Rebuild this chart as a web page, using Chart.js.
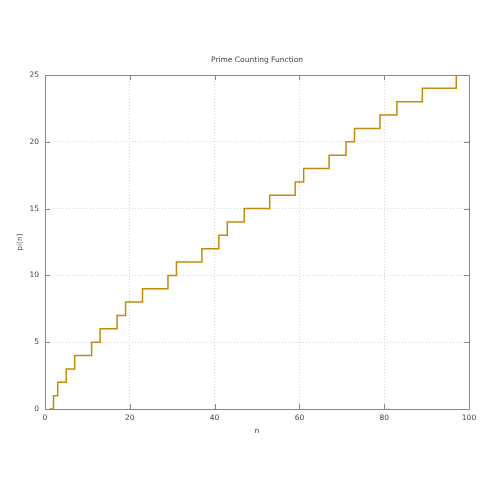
<!DOCTYPE html>
<html>
<head>
<meta charset="utf-8">
<script src="https://cdn.jsdelivr.net/npm/chart.js@4"></script>
<style>
  html, body { margin: 0; padding: 0; background: #fff; }
  #wrap { width: 500px; height: 500px; }
</style>
</head>
<body>
<div id="wrap"><canvas id="chart" width="500" height="500"></canvas></div>
<script>
// step points: n where the count changes (primes), plus start and end of range
const nValues = [1, 2, 3, 5, 7, 11, 13, 17, 19, 23, 29, 31, 37, 41, 43, 47, 53, 59, 61, 67, 71, 73, 79, 83, 89, 97, 100];
const piValues = [0, 1, 2, 3, 4, 5, 6, 7, 8, 9, 10, 11, 12, 13, 14, 15, 16, 17, 18, 19, 20, 21, 22, 23, 24, 25, 25];
const xTicks = [0, 20, 40, 60, 80, 100];
const yTicks = [0, 5, 10, 15, 20, 25];

const textColor = '#444';
const fontFamily = 'DejaVu Sans';
const fontSize = 7.5;

// gnuplot-like frame: box border plus inward tick marks on all four sides
const framePlugin = {
    id: 'frame',
    afterLayout(chart) {
        // center the title over the plot area, not the whole canvas
        if (chart.titleBlock) {
            chart.titleBlock.left = chart.chartArea.left;
            chart.titleBlock.right = chart.chartArea.right;
        }
    },
    afterDraw(chart) {
        const ctx = chart.ctx;
        const a = chart.chartArea;
        const xs = chart.scales.x, ys = chart.scales.y;
        const len = 5;
        ctx.save();
        ctx.strokeStyle = '#888';
        ctx.lineWidth = 1;
        ctx.beginPath();
        ctx.rect(Math.round(a.left) + 0.5, Math.round(a.top) + 0.5,
                 Math.round(a.right - a.left), Math.round(a.bottom - a.top));
        ctx.stroke();
        ctx.beginPath();
        xTicks.forEach(v => {
            const px = Math.round(xs.getPixelForValue(v)) + 0.5;
            ctx.moveTo(px, a.bottom); ctx.lineTo(px, a.bottom - len);
            ctx.moveTo(px, a.top); ctx.lineTo(px, a.top + len);
        });
        yTicks.forEach(v => {
            const py = Math.round(ys.getPixelForValue(v)) + 0.5;
            ctx.moveTo(a.left, py); ctx.lineTo(a.left + len, py);
            ctx.moveTo(a.right, py); ctx.lineTo(a.right - len, py);
        });
        ctx.stroke();
        ctx.restore();
    }
};

new Chart(document.getElementById('chart'), {
    type: 'line',
    data: {
        datasets: [{
            label: 'pi(n)',
            data: nValues.map((n, i) => ({ x: n, y: piValues[i] })),
            borderColor: '#c08c0c',
            borderWidth: 1.5,
            stepped: 'before',
            pointRadius: 0,
            fill: false
        }]
    },
    options: {
        responsive: false,
        animation: false,
        layout: { padding: { top: 51, left: 0, right: 31, bottom: 0 } },
        plugins: {
            legend: { display: false },
            tooltip: { enabled: false },
            title: {
                display: true,
                text: 'Prime Counting Function',
                color: textColor,
                font: { family: fontFamily, size: fontSize, weight: 'normal' },
                padding: { top: 5, bottom: 10 }
            }
        },
        scales: {
            x: {
                type: 'linear',
                min: 0,
                max: 100,
                afterFit: s => { s.height = 91; },
                afterBuildTicks: s => { s.ticks = xTicks.map(v => ({ value: v })); },
                ticks: { color: textColor, font: { family: fontFamily, size: fontSize }, padding: 5, maxRotation: 0 },
                grid: { color: '#d4d4d4', drawTicks: false },
                border: { display: false, dash: [1, 2] },
                title: {
                    display: true,
                    text: 'n',
                    color: textColor,
                    font: { family: fontFamily, size: fontSize },
                    padding: { top: 0, bottom: 64 }
                }
            },
            y: {
                min: 0,
                max: 25,
                afterFit: s => { s.width = 45; },
                afterBuildTicks: s => { s.ticks = yTicks.map(v => ({ value: v })); },
                ticks: { color: textColor, font: { family: fontFamily, size: fontSize }, padding: 6 },
                grid: { color: '#d4d4d4', drawTicks: false },
                border: { display: false, dash: [1, 2] },
                title: {
                    display: true,
                    text: 'pi(n)',
                    color: textColor,
                    font: { family: fontFamily, size: fontSize },
                    padding: { top: 16, bottom: 0 }
                }
            }
        }
    },
    plugins: [framePlugin]
});
</script>
</body>
</html>
